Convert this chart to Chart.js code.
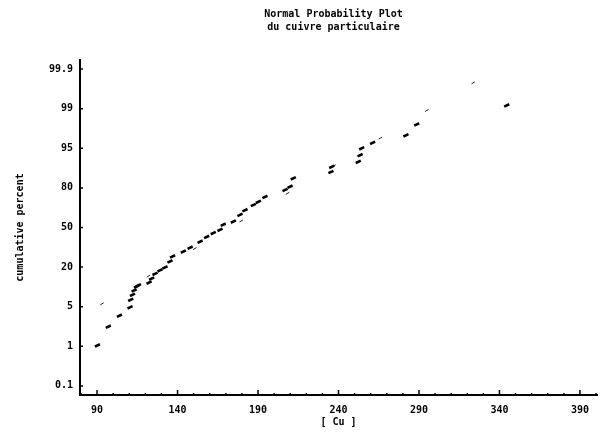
<!DOCTYPE html>
<html>
<head>
<meta charset="utf-8">
<title>Normal Probability Plot</title>
<script src="https://cdn.jsdelivr.net/npm/chart.js@4/dist/chart.umd.min.js"></script>
<style>
  html, body { margin: 0; padding: 0; background: #fff; }
  #wrap { width: 614px; height: 436px; }
</style>
</head>
<body>
<div id="wrap"><canvas id="probChart" width="614" height="436"></canvas></div>
<script>
// Cu (particulate copper) values, sorted, with their cumulative percent
const cuValues = [
  90.2, 97.0, 103.9, 110.5, 110.9, 112.0, 113.0, 114.5, 115.7, 122.3,
  123.9, 126.0, 129.1, 132.2, 135.3, 136.9, 143.6, 147.8, 154.0, 158.1,
  162.2, 166.4, 168.4, 174.7, 178.8, 181.9, 187.1, 190.2, 194.3, 206.8,
  209.9, 211.9, 235.3, 235.8, 252.3, 253.4, 254.4, 261.2, 281.9, 288.6,
  344.5
];
const cumPercent = [
  1.04, 2.35, 3.6, 4.9, 6.6, 8.0, 9.4, 10.8, 11.3, 12.4,
  14.1, 16.4, 18.2, 19.8, 23.5, 26.9, 30.4, 33.4, 38.1, 42.0,
  45.3, 48.0, 52.4, 55.0, 60.6, 64.4, 68.4, 70.8, 74.2, 78.8,
  80.7, 85.0, 87.8, 89.8, 91.5, 93.4, 95.0, 95.9, 96.9, 98.0,
  99.15
];

// fitted normal reference line (two end points)
const fitCu = [92, 338];
const fitPercent = [5.4, 99.9];

const percentTicks = [0.1, 1, 5, 20, 50, 80, 95, 99, 99.9];
const cuTicks = [90, 140, 190, 240, 290, 340, 390];
const titleLines = ['Normal Probability Plot', 'du cuivre particulaire'];

const MONO = '"DejaVu Sans Mono", "Liberation Mono", monospace';

// approximate normal quantile (Tukey lambda form)
function probit(p) {
  return 4.91 * (Math.pow(p, 0.14) - Math.pow(1 - p, 0.14));
}

const tickZ = percentTicks.map(p => probit(p / 100));

// percent -> position on the evenly spaced probability axis
function toAxis(pct) {
  const z = probit(pct / 100);
  for (let i = 0; i < tickZ.length - 1; i++) {
    if (z <= tickZ[i + 1] || i === tickZ.length - 2) {
      return i + (z - tickZ[i]) / (tickZ[i + 1] - tickZ[i]);
    }
  }
  return 0;
}

const points = cuValues.map((c, i) => ({ x: c, y: toAxis(cumPercent[i]) }));
const fitLine = fitCu.map((c, i) => ({ x: c, y: toAxis(fitPercent[i]) }));

// heading over the plot area
const headingPlugin = {
  id: 'heading',
  afterDraw(chart) {
    const { ctx, chartArea } = chart;
    const cx = (chartArea.left + chartArea.right) / 2 - 5;
    ctx.save();
    ctx.font = 'bold 10px ' + MONO;
    ctx.fillStyle = '#000';
    ctx.textAlign = 'center';
    ctx.textBaseline = 'middle';
    titleLines.forEach((t, i) => ctx.fillText(t, cx, 14 + i * 13));
    ctx.restore();
  }
};

// inward tick marks on both axes
const tickMarksPlugin = {
  id: 'tickMarks',
  afterDatasetsDraw(chart) {
    const { ctx, chartArea, scales } = chart;
    ctx.save();
    ctx.strokeStyle = '#000';
    ctx.lineWidth = 1.5;
    ctx.beginPath();
    cuTicks.forEach(v => {
      const px = scales.x.getPixelForValue(v);
      ctx.moveTo(px, chartArea.bottom);
      ctx.lineTo(px, chartArea.bottom - 5);
    });
    for (let v = 80; v <= 400; v += 10) {
      const px = scales.x.getPixelForValue(v);
      ctx.moveTo(px, chartArea.bottom);
      ctx.lineTo(px, chartArea.bottom - 2);
    }
    percentTicks.forEach((p, i) => {
      const py = scales.y.getPixelForValue(i);
      ctx.moveTo(chartArea.left, py);
      ctx.lineTo(chartArea.left + 3, py);
    });
    ctx.stroke();
    ctx.restore();
  }
};

new Chart(document.getElementById('probChart'), {
  type: 'scatter',
  data: {
    datasets: [
      {
        label: 'Cu',
        data: points,
        pointStyle: 'line',
        rotation: -25,
        pointRadius: 2.8,
        borderWidth: 2.6,
        borderColor: '#000',
        backgroundColor: '#000'
      },
      {
        type: 'line',
        label: 'fit',
        data: fitLine,
        borderColor: '#222',
        borderWidth: 1,
        borderDash: [4, 50],
        pointRadius: 0,
        fill: false
      }
    ]
  },
  options: {
    responsive: false,
    animation: false,
    layout: { padding: { top: 60, right: 17, bottom: 0, left: 0 } },
    plugins: {
      legend: { display: false },
      tooltip: { enabled: false }
    },
    scales: {
      x: {
        type: 'linear',
        min: 79.4,
        max: 400.6,
        afterBuildTicks: axis => { axis.ticks = cuTicks.map(v => ({ value: v })); },
        afterFit: axis => { axis.height = 41; },
        grid: { drawOnChartArea: false, drawTicks: false },
        border: { display: true, color: '#000', width: 2 },
        ticks: {
          color: '#000',
          padding: 9,
          maxRotation: 0,
          font: { family: MONO, size: 10, weight: 'bold' }
        },
        title: {
          display: true,
          text: '[ Cu ]',
          color: '#000',
          padding: { top: 0, bottom: 8 },
          font: { family: MONO, size: 10, weight: 'bold' }
        }
      },
      y: {
        type: 'linear',
        min: -0.23,
        max: 8.23,
        afterBuildTicks: axis => { axis.ticks = percentTicks.map((p, i) => ({ value: i })); },
        afterFit: axis => { axis.width = 80; },
        grid: { drawOnChartArea: false, drawTicks: false },
        border: { display: true, color: '#000', width: 2 },
        ticks: {
          color: '#000',
          padding: 7,
          font: { family: MONO, size: 10, weight: 'bold' },
          callback: (value) => String(percentTicks[value])
        },
        title: {
          display: true,
          text: 'cumulative percent',
          color: '#000',
          padding: { top: 14, bottom: 0 },
          font: { family: MONO, size: 10, weight: 'bold' }
        }
      }
    }
  },
  plugins: [headingPlugin, tickMarksPlugin]
});
</script>
</body>
</html>
